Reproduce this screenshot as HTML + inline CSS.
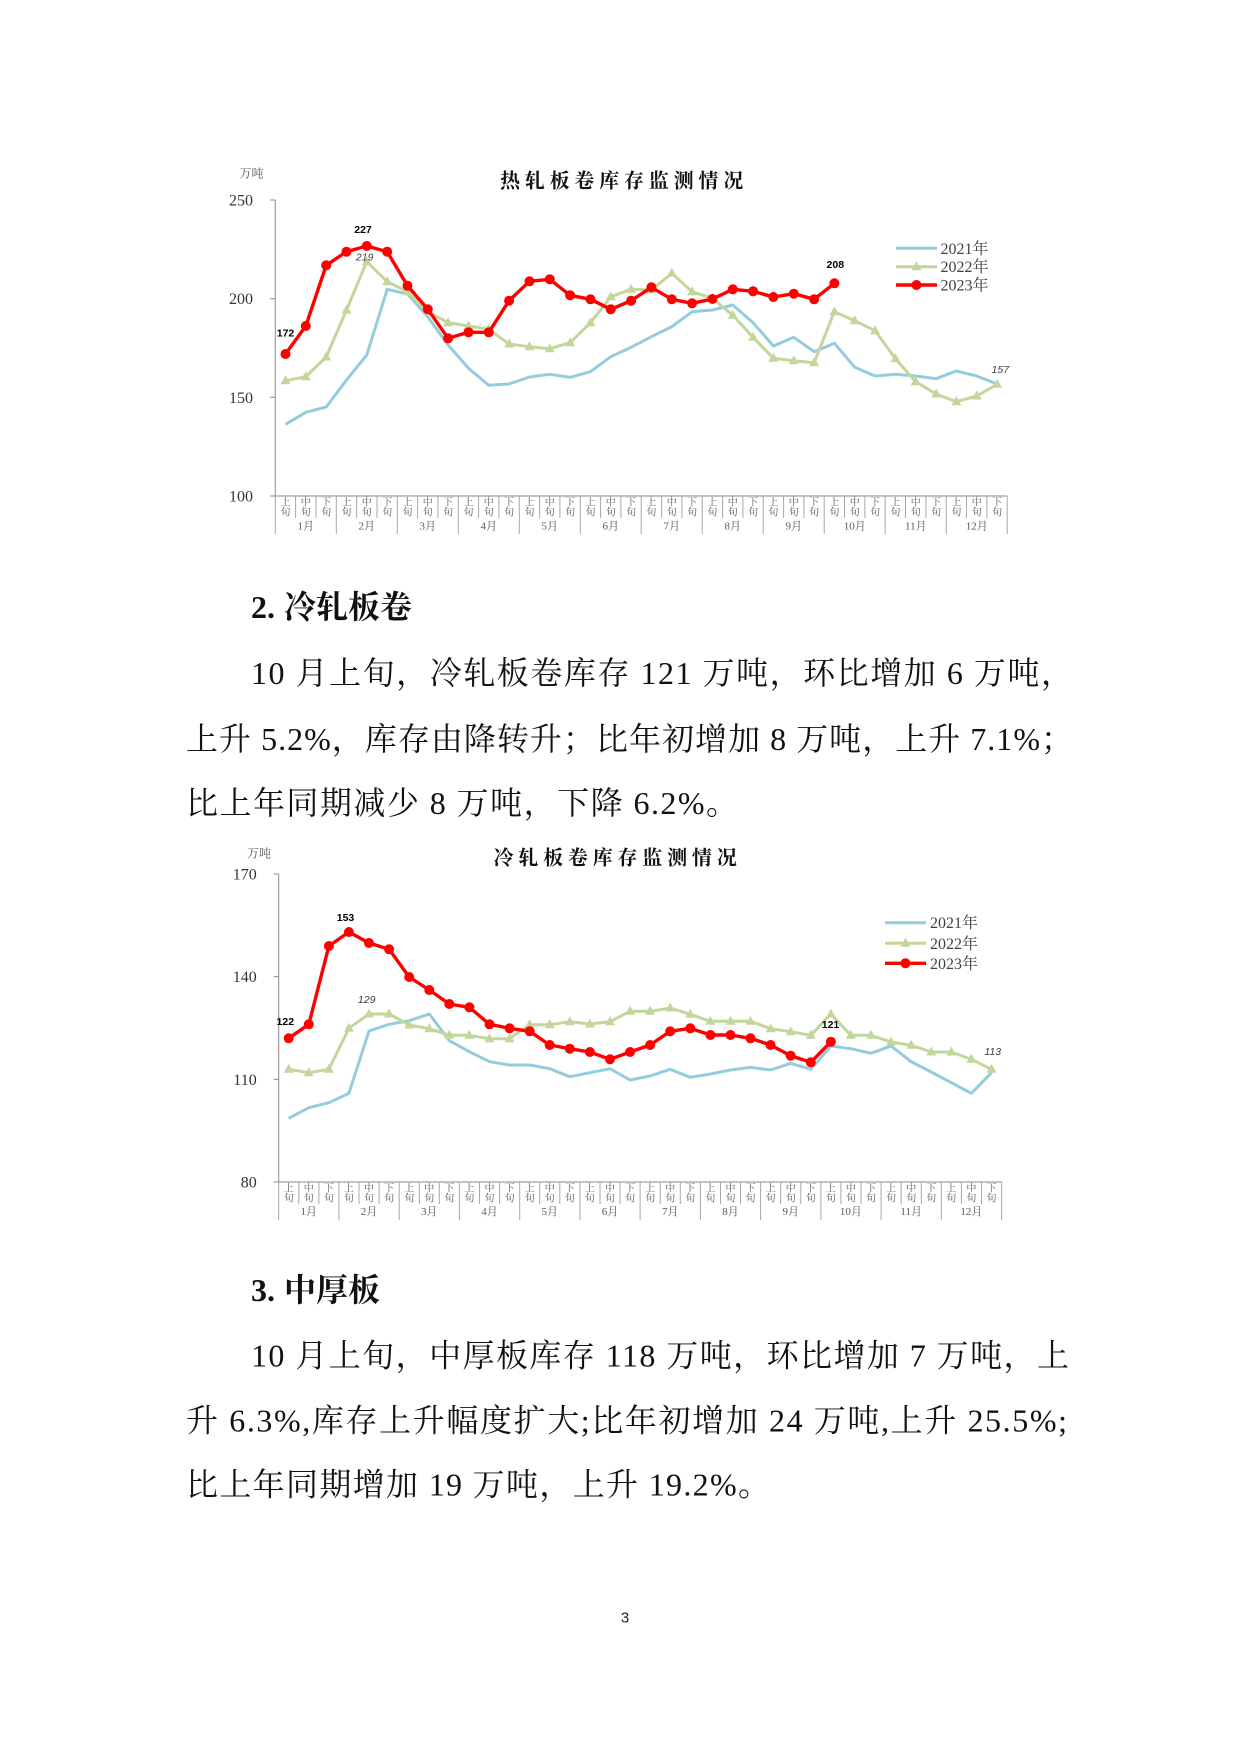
<!DOCTYPE html>
<html>
<head>
<meta charset="utf-8">
<style>
html,body{margin:0;padding:0;background:#fff;}
body{width:1240px;height:1753px;position:relative;overflow:hidden;}
svg{position:absolute;left:0;top:0;}
.ln{position:absolute;font-family:"Liberation Serif","Noto Serif CJK SC",serif;font-size:31.5px;line-height:40px;height:40px;color:#111;white-space:normal;}
.h{font-weight:bold;font-size:32px;}
</style>
</head>
<body>
<svg width="1240" height="1753" viewBox="0 0 1240 1753" xmlns="http://www.w3.org/2000/svg">
<defs>
<path id="tri" d="M0,-5.5L5,3.5L-5,3.5Z" fill="#C3D69B"/>
</defs>

<!-- ================= CHART 1 ================= -->
<g font-family="Liberation Serif, Noto Serif CJK SC, serif">
<text x="624" y="187.5" text-anchor="middle" font-size="20" font-weight="bold" letter-spacing="4.8" font-family="Noto Serif CJK SC, serif" fill="#111">热轧板卷库存监测情况</text>
<text x="251.5" y="177.5" text-anchor="middle" font-size="12" fill="#555" font-family="Noto Serif CJK SC, serif">万吨</text>
<g font-size="16" fill="#333" text-anchor="end">
<text x="253" y="205.5">250</text>
<text x="253" y="304.2">200</text>
<text x="253" y="402.8">150</text>
<text x="253" y="501.5">100</text>
</g>
</g>
<g stroke="#8a8a8a" stroke-width="1" fill="none">
<path d="M275.3,200V496M270,200H275.3M270,298.7H275.3M270,397.3H275.3M270,496H1007.3"/>
</g>
<g stroke="#a8a8a8" stroke-width="1" fill="none">
<path d="M295.6,496V518M316,496V518M356.6,496V518M377,496V518M417.6,496V518M437.9,496V518M478.6,496V518M498.9,496V518M539.6,496V518M559.9,496V518M600.6,496V518M620.9,496V518M661.6,496V518M681.9,496V518M722.6,496V518M742.9,496V518M783.6,496V518M803.9,496V518M844.5,496V518M864.9,496V518M905.5,496V518M925.9,496V518M966.5,496V518M986.9,496V518"/>
<path d="M275.3,496V534M336.3,496V534M397.3,496V534M458.3,496V534M519.3,496V534M580.3,496V534M641.2,496V534M702.2,496V534M763.2,496V534M824.2,496V534M885.2,496V534M946.2,496V534M1007.2,496V534"/>
</g>
<g font-family="Noto Serif CJK SC, serif" font-size="10" fill="#595959" text-anchor="middle">
<text x="285.5 305.8 326.2 346.5 366.8 387.2 407.5 427.8 448.1 468.5 488.8 509.1 529.5 549.8 570.1 590.5 610.8 631.1 651.4 671.8 692.1 712.4 732.8 753.1 773.4 793.8 814.1 834.4 854.7 875.1 895.4 915.7 936.1 956.4 976.7 997.1" y="505.3">上中下上中下上中下上中下上中下上中下上中下上中下上中下上中下上中下上中下</text>
<text x="285.5 305.8 326.2 346.5 366.8 387.2 407.5 427.8 448.1 468.5 488.8 509.1 529.5 549.8 570.1 590.5 610.8 631.1 651.4 671.8 692.1 712.4 732.8 753.1 773.4 793.8 814.1 834.4 854.7 875.1 895.4 915.7 936.1 956.4 976.7 997.1" y="515.7">旬旬旬旬旬旬旬旬旬旬旬旬旬旬旬旬旬旬旬旬旬旬旬旬旬旬旬旬旬旬旬旬旬旬旬旬</text>
</g>
<g font-family="Liberation Serif, Noto Serif CJK SC, serif" font-size="11" fill="#595959" text-anchor="middle">
<text x="305.8" y="529.5">1月</text><text x="366.8" y="529.5">2月</text><text x="427.8" y="529.5">3月</text><text x="488.8" y="529.5">4月</text><text x="549.8" y="529.5">5月</text><text x="610.8" y="529.5">6月</text><text x="671.8" y="529.5">7月</text><text x="732.8" y="529.5">8月</text><text x="793.8" y="529.5">9月</text><text x="854.8" y="529.5">10月</text><text x="915.8" y="529.5">11月</text><text x="976.8" y="529.5">12月</text>
</g>

<polyline fill="none" stroke="#93CDDD" stroke-width="3" stroke-linejoin="round" points="285.5,424.3 305.8,412.3 326.2,407.0 346.5,380.0 366.8,355.0 387.2,289.3 407.5,294.0 427.8,316.7 448.1,345.0 468.5,368.3 488.8,385.3 509.1,384.0 529.5,377.0 549.8,374.3 570.1,377.3 590.5,371.7 610.8,356.7 631.1,347.3 651.4,336.7 671.8,326.7 692.1,311.7 712.4,310.0 732.8,305.0 753.1,322.7 773.4,346.0 793.8,337.3 814.1,351.7 834.4,343.3 854.7,367.3 875.1,376.0 895.4,374.3 915.7,376.0 936.1,378.7 956.4,371.0 976.7,376.0 997.1,384.0"/>
<polyline fill="none" stroke="#C3D69B" stroke-width="3" stroke-linejoin="round" points="285.5,380.7 305.8,376.7 326.2,357.0 346.5,310.0 366.8,261.7 387.2,281.7 407.5,291.7 427.8,311.7 448.1,322.7 468.5,326.0 488.8,329.3 509.1,344.0 529.5,346.7 549.8,348.7 570.1,342.7 590.5,322.7 610.8,296.7 631.1,289.3 651.4,290.0 671.8,273.3 692.1,291.7 712.4,298.3 732.8,315.3 753.1,337.3 773.4,358.3 793.8,360.7 814.1,362.7 834.4,311.7 854.7,320.7 875.1,330.7 895.4,358.7 915.7,381.7 936.1,394.0 956.4,401.7 976.7,396.0 997.1,384.3"/>
<g>
<use href="#tri" x="285.5" y="380.7"/><use href="#tri" x="305.8" y="376.7"/><use href="#tri" x="326.2" y="357.0"/><use href="#tri" x="346.5" y="310.0"/><use href="#tri" x="366.8" y="261.7"/><use href="#tri" x="387.2" y="281.7"/><use href="#tri" x="407.5" y="291.7"/><use href="#tri" x="427.8" y="311.7"/><use href="#tri" x="448.1" y="322.7"/><use href="#tri" x="468.5" y="326.0"/><use href="#tri" x="488.8" y="329.3"/><use href="#tri" x="509.1" y="344.0"/><use href="#tri" x="529.5" y="346.7"/><use href="#tri" x="549.8" y="348.7"/><use href="#tri" x="570.1" y="342.7"/><use href="#tri" x="590.5" y="322.7"/><use href="#tri" x="610.8" y="296.7"/><use href="#tri" x="631.1" y="289.3"/><use href="#tri" x="651.4" y="290.0"/><use href="#tri" x="671.8" y="273.3"/><use href="#tri" x="692.1" y="291.7"/><use href="#tri" x="712.4" y="298.3"/><use href="#tri" x="732.8" y="315.3"/><use href="#tri" x="753.1" y="337.3"/><use href="#tri" x="773.4" y="358.3"/><use href="#tri" x="793.8" y="360.7"/><use href="#tri" x="814.1" y="362.7"/><use href="#tri" x="834.4" y="311.7"/><use href="#tri" x="854.7" y="320.7"/><use href="#tri" x="875.1" y="330.7"/><use href="#tri" x="895.4" y="358.7"/><use href="#tri" x="915.7" y="381.7"/><use href="#tri" x="936.1" y="394.0"/><use href="#tri" x="956.4" y="401.7"/><use href="#tri" x="976.7" y="396.0"/><use href="#tri" x="997.1" y="384.3"/>
</g>
<polyline fill="none" stroke="#FF0000" stroke-width="3.4" stroke-linejoin="round" points="285.5,354.0 305.8,326.0 326.2,265.3 346.5,251.7 366.8,246.0 387.2,251.7 407.5,285.7 427.8,309.3 448.1,338.3 468.5,332.3 488.8,332.3 509.1,300.7 529.5,281.3 549.8,279.3 570.1,295.3 590.5,299.3 610.8,309.3 631.1,300.7 651.4,287.3 671.8,299.3 692.1,303.3 712.4,299.0 732.8,289.3 753.1,291.3 773.4,297.0 793.8,293.7 814.1,299.3 834.4,283.3"/>
<g fill="#FF0000">
<circle cx="285.5" cy="354.0" r="5"/><circle cx="305.8" cy="326.0" r="5"/><circle cx="326.2" cy="265.3" r="5"/><circle cx="346.5" cy="251.7" r="5"/><circle cx="366.8" cy="246.0" r="5"/><circle cx="387.2" cy="251.7" r="5"/><circle cx="407.5" cy="285.7" r="5"/><circle cx="427.8" cy="309.3" r="5"/><circle cx="448.1" cy="338.3" r="5"/><circle cx="468.5" cy="332.3" r="5"/><circle cx="488.8" cy="332.3" r="5"/><circle cx="509.1" cy="300.7" r="5"/><circle cx="529.5" cy="281.3" r="5"/><circle cx="549.8" cy="279.3" r="5"/><circle cx="570.1" cy="295.3" r="5"/><circle cx="590.5" cy="299.3" r="5"/><circle cx="610.8" cy="309.3" r="5"/><circle cx="631.1" cy="300.7" r="5"/><circle cx="651.4" cy="287.3" r="5"/><circle cx="671.8" cy="299.3" r="5"/><circle cx="692.1" cy="303.3" r="5"/><circle cx="712.4" cy="299.0" r="5"/><circle cx="732.8" cy="289.3" r="5"/><circle cx="753.1" cy="291.3" r="5"/><circle cx="773.4" cy="297.0" r="5"/><circle cx="793.8" cy="293.7" r="5"/><circle cx="814.1" cy="299.3" r="5"/><circle cx="834.4" cy="283.3" r="5"/>
</g>
<g font-family="Liberation Sans, sans-serif" font-size="10.5" text-anchor="middle">
<text x="285.5" y="336.5" font-weight="bold" fill="#000">172</text>
<text x="363" y="232.8" font-weight="bold" fill="#000">227</text>
<text x="364.7" y="260.5" font-style="italic" fill="#404040">219</text>
<text x="835.3" y="267.8" font-weight="bold" fill="#000">208</text>
<text x="1000.3" y="373" font-style="italic" fill="#404040">157</text>
</g>
<!-- legend 1 -->
<g>
<line x1="896" y1="248.3" x2="937" y2="248.3" stroke="#93CDDD" stroke-width="3"/>
<line x1="896" y1="266.7" x2="937" y2="266.7" stroke="#C3D69B" stroke-width="3"/>
<use href="#tri" x="916.5" y="266.7"/>
<line x1="896" y1="285" x2="937" y2="285" stroke="#FF0000" stroke-width="3.4"/>
<circle cx="916.5" cy="285" r="5" fill="#FF0000"/>
<g font-family="Liberation Serif, Noto Serif CJK SC, serif" font-size="16" fill="#404040">
<text x="940.5" y="253.8">2021年</text>
<text x="940.5" y="272.2">2022年</text>
<text x="940.5" y="290.5">2023年</text>
</g>
</g>

<!-- ================= CHART 2 ================= -->
<g font-family="Liberation Serif, Noto Serif CJK SC, serif">
<text x="617.5" y="864.5" text-anchor="middle" font-size="20" font-weight="bold" letter-spacing="4.8" font-family="Noto Serif CJK SC, serif" fill="#111">冷轧板卷库存监测情况</text>
<text x="259" y="857.5" text-anchor="middle" font-size="12" fill="#555" font-family="Noto Serif CJK SC, serif">万吨</text>
<g font-size="16" fill="#333" text-anchor="end">
<text x="256.7" y="879.5">170</text>
<text x="256.7" y="982.2">140</text>
<text x="256.7" y="1084.8">110</text>
<text x="256.7" y="1187.5">80</text>
</g>
</g>
<g stroke="#8a8a8a" stroke-width="1" fill="none">
<path d="M278.7,874V1182M273.5,874H278.7M273.5,976.7H278.7M273.5,1079.3H278.7M273.5,1182H1001.6"/>
</g>
<g stroke="#a8a8a8" stroke-width="1" fill="none">
<path d="M298.8,1182V1204M318.9,1182V1204M359,1182V1204M379.1,1182V1204M419.3,1182V1204M439.3,1182V1204M479.5,1182V1204M499.6,1182V1204M539.7,1182V1204M559.8,1182V1204M600,1182V1204M620.1,1182V1204M660.2,1182V1204M680.3,1182V1204M720.5,1182V1204M740.5,1182V1204M780.7,1182V1204M800.8,1182V1204M840.9,1182V1204M861,1182V1204M901.2,1182V1204M921.3,1182V1204M961.4,1182V1204M981.5,1182V1204"/>
<path d="M278.7,1182V1220M338.9,1182V1220M399.2,1182V1220M459.4,1182V1220M519.7,1182V1220M579.9,1182V1220M640.1,1182V1220M700.4,1182V1220M760.6,1182V1220M820.9,1182V1220M881.1,1182V1220M941.3,1182V1220M1001.6,1182V1220"/>
</g>
<g font-family="Noto Serif CJK SC, serif" font-size="10" fill="#595959" text-anchor="middle">
<text x="288.7 308.8 328.9 348.9 369.0 389.1 409.2 429.3 449.3 469.4 489.5 509.6 529.7 549.7 569.8 589.9 610.0 630.1 650.1 670.2 690.3 710.4 730.5 750.5 770.6 790.7 810.8 830.9 850.9 871.0 891.1 911.2 931.3 951.3 971.4 991.5" y="1191.3">上中下上中下上中下上中下上中下上中下上中下上中下上中下上中下上中下上中下</text>
<text x="288.7 308.8 328.9 348.9 369.0 389.1 409.2 429.3 449.3 469.4 489.5 509.6 529.7 549.7 569.8 589.9 610.0 630.1 650.1 670.2 690.3 710.4 730.5 750.5 770.6 790.7 810.8 830.9 850.9 871.0 891.1 911.2 931.3 951.3 971.4 991.5" y="1201.7">旬旬旬旬旬旬旬旬旬旬旬旬旬旬旬旬旬旬旬旬旬旬旬旬旬旬旬旬旬旬旬旬旬旬旬旬</text>
</g>
<g font-family="Liberation Serif, Noto Serif CJK SC, serif" font-size="11" fill="#595959" text-anchor="middle">
<text x="308.8" y="1215">1月</text><text x="369.0" y="1215">2月</text><text x="429.3" y="1215">3月</text><text x="489.5" y="1215">4月</text><text x="549.7" y="1215">5月</text><text x="610.0" y="1215">6月</text><text x="670.2" y="1215">7月</text><text x="730.5" y="1215">8月</text><text x="790.7" y="1215">9月</text><text x="850.9" y="1215">10月</text><text x="911.2" y="1215">11月</text><text x="971.4" y="1215">12月</text>
</g>

<polyline fill="none" stroke="#93CDDD" stroke-width="3" stroke-linejoin="round" points="288.7,1118.3 308.8,1107.7 328.9,1102.7 348.9,1093.3 369.0,1031.0 389.1,1024.3 409.2,1020.7 429.3,1014.0 449.3,1040.7 469.4,1051.7 489.5,1061.7 509.6,1065.0 529.7,1065.0 549.7,1068.7 569.8,1076.7 589.9,1072.7 610.0,1068.7 630.1,1080.0 650.1,1076.0 670.2,1069.3 690.3,1077.3 710.4,1074.0 730.5,1070.0 750.5,1067.3 770.6,1070.0 790.7,1063.3 810.8,1069.3 830.9,1046.0 850.9,1048.7 871.0,1053.3 891.1,1046.0 911.2,1061.7 931.3,1072.0 951.3,1082.7 971.4,1093.3 991.5,1072.7"/>
<polyline fill="none" stroke="#C3D69B" stroke-width="3" stroke-linejoin="round" points="288.7,1069.3 308.8,1072.7 328.9,1069.3 348.9,1028.3 369.0,1014.0 389.1,1014.0 409.2,1025.0 429.3,1028.7 449.3,1035.3 469.4,1035.3 489.5,1038.7 509.6,1038.7 529.7,1024.7 549.7,1024.7 569.8,1021.7 589.9,1024.0 610.0,1021.7 630.1,1011.3 650.1,1011.3 670.2,1008.0 690.3,1014.3 710.4,1021.3 730.5,1021.3 750.5,1021.3 770.6,1028.7 790.7,1031.7 810.8,1035.3 830.9,1014.0 850.9,1035.3 871.0,1035.3 891.1,1042.0 911.2,1045.3 931.3,1052.0 951.3,1052.0 971.4,1059.3 991.5,1069.3"/>
<g>
<use href="#tri" x="288.7" y="1069.3"/><use href="#tri" x="308.8" y="1072.7"/><use href="#tri" x="328.9" y="1069.3"/><use href="#tri" x="348.9" y="1028.3"/><use href="#tri" x="369.0" y="1014.0"/><use href="#tri" x="389.1" y="1014.0"/><use href="#tri" x="409.2" y="1025.0"/><use href="#tri" x="429.3" y="1028.7"/><use href="#tri" x="449.3" y="1035.3"/><use href="#tri" x="469.4" y="1035.3"/><use href="#tri" x="489.5" y="1038.7"/><use href="#tri" x="509.6" y="1038.7"/><use href="#tri" x="529.7" y="1024.7"/><use href="#tri" x="549.7" y="1024.7"/><use href="#tri" x="569.8" y="1021.7"/><use href="#tri" x="589.9" y="1024.0"/><use href="#tri" x="610.0" y="1021.7"/><use href="#tri" x="630.1" y="1011.3"/><use href="#tri" x="650.1" y="1011.3"/><use href="#tri" x="670.2" y="1008.0"/><use href="#tri" x="690.3" y="1014.3"/><use href="#tri" x="710.4" y="1021.3"/><use href="#tri" x="730.5" y="1021.3"/><use href="#tri" x="750.5" y="1021.3"/><use href="#tri" x="770.6" y="1028.7"/><use href="#tri" x="790.7" y="1031.7"/><use href="#tri" x="810.8" y="1035.3"/><use href="#tri" x="830.9" y="1014.0"/><use href="#tri" x="850.9" y="1035.3"/><use href="#tri" x="871.0" y="1035.3"/><use href="#tri" x="891.1" y="1042.0"/><use href="#tri" x="911.2" y="1045.3"/><use href="#tri" x="931.3" y="1052.0"/><use href="#tri" x="951.3" y="1052.0"/><use href="#tri" x="971.4" y="1059.3"/><use href="#tri" x="991.5" y="1069.3"/>
</g>
<polyline fill="none" stroke="#FF0000" stroke-width="3.4" stroke-linejoin="round" points="288.7,1038.3 308.8,1024.3 328.9,946.0 348.9,932.0 369.0,943.0 389.1,949.3 409.2,977.0 429.3,990.0 449.3,1004.0 469.4,1007.3 489.5,1024.3 509.6,1028.3 529.7,1031.3 549.7,1045.0 569.8,1048.7 589.9,1052.0 610.0,1059.3 630.1,1052.0 650.1,1045.0 670.2,1031.3 690.3,1028.3 710.4,1035.0 730.5,1035.0 750.5,1038.3 770.6,1045.0 790.7,1055.7 810.8,1062.3 830.9,1041.7"/>
<g fill="#FF0000">
<circle cx="288.7" cy="1038.3" r="5"/><circle cx="308.8" cy="1024.3" r="5"/><circle cx="328.9" cy="946.0" r="5"/><circle cx="348.9" cy="932.0" r="5"/><circle cx="369.0" cy="943.0" r="5"/><circle cx="389.1" cy="949.3" r="5"/><circle cx="409.2" cy="977.0" r="5"/><circle cx="429.3" cy="990.0" r="5"/><circle cx="449.3" cy="1004.0" r="5"/><circle cx="469.4" cy="1007.3" r="5"/><circle cx="489.5" cy="1024.3" r="5"/><circle cx="509.6" cy="1028.3" r="5"/><circle cx="529.7" cy="1031.3" r="5"/><circle cx="549.7" cy="1045.0" r="5"/><circle cx="569.8" cy="1048.7" r="5"/><circle cx="589.9" cy="1052.0" r="5"/><circle cx="610.0" cy="1059.3" r="5"/><circle cx="630.1" cy="1052.0" r="5"/><circle cx="650.1" cy="1045.0" r="5"/><circle cx="670.2" cy="1031.3" r="5"/><circle cx="690.3" cy="1028.3" r="5"/><circle cx="710.4" cy="1035.0" r="5"/><circle cx="730.5" cy="1035.0" r="5"/><circle cx="750.5" cy="1038.3" r="5"/><circle cx="770.6" cy="1045.0" r="5"/><circle cx="790.7" cy="1055.7" r="5"/><circle cx="810.8" cy="1062.3" r="5"/><circle cx="830.9" cy="1041.7" r="5"/>
</g>
<g font-family="Liberation Sans, sans-serif" font-size="10.5" text-anchor="middle">
<text x="285.3" y="1024.8" font-weight="bold" fill="#000">122</text>
<text x="345.5" y="920.8" font-weight="bold" fill="#000">153</text>
<text x="366.7" y="1003" font-style="italic" fill="#404040">129</text>
<text x="830.5" y="1027.8" font-weight="bold" fill="#000">121</text>
<text x="992.7" y="1054.8" font-style="italic" fill="#404040">113</text>
</g>
<!-- legend 2 -->
<g>
<line x1="885" y1="922.7" x2="926" y2="922.7" stroke="#93CDDD" stroke-width="3"/>
<line x1="885" y1="943.3" x2="926" y2="943.3" stroke="#C3D69B" stroke-width="3"/>
<use href="#tri" x="905.5" y="943.3"/>
<line x1="885" y1="963.3" x2="926" y2="963.3" stroke="#FF0000" stroke-width="3.4"/>
<circle cx="905.5" cy="963.3" r="5" fill="#FF0000"/>
<g font-family="Liberation Serif, Noto Serif CJK SC, serif" font-size="16" fill="#404040">
<text x="930" y="928.2">2021年</text>
<text x="930" y="948.8">2022年</text>
<text x="930" y="968.8">2023年</text>
</g>
</g>

<!-- ================= BODY TEXT ================= -->
<g font-family="Liberation Serif, Noto Serif CJK SC, serif" font-size="32" fill="#111">
<text x="251" y="684" textLength="822" lengthAdjust="spacing">10 月上旬，冷轧板卷库存 121 万吨，环比增加 6 万吨，</text>
<text x="186" y="750" textLength="887" lengthAdjust="spacing">上升 5.2%，库存由降转升；比年初增加 8 万吨，上升 7.1%；</text>
<text x="186" y="814" textLength="552" lengthAdjust="spacing">比上年同期减少 8 万吨，下降 6.2%。</text>
<text x="251" y="1366.6" textLength="818" lengthAdjust="spacing">10 月上旬，中厚板库存 118 万吨，环比增加 7 万吨，上</text>
<text x="186" y="1431.6" textLength="881" lengthAdjust="spacing">升 6.3%,库存上升幅度扩大;比年初增加 24 万吨,上升 25.5%;</text>
<text x="186" y="1495.6" textLength="584" lengthAdjust="spacing">比上年同期增加 19 万吨，上升 19.2%。</text>
</g>

<!-- page number -->
<text x="625" y="1622.5" text-anchor="middle" font-family="Liberation Sans, sans-serif" font-size="15" fill="#222">3</text>
</svg>

<!-- Headings -->
<div class="ln h" style="left:251px;top:587px;width:400px;">2.<span style="margin-left:9px">冷轧板卷</span></div>
<div class="ln h" style="left:251px;top:1270px;width:400px;">3.<span style="margin-left:9px">中厚板</span></div>
</body>
</html>
